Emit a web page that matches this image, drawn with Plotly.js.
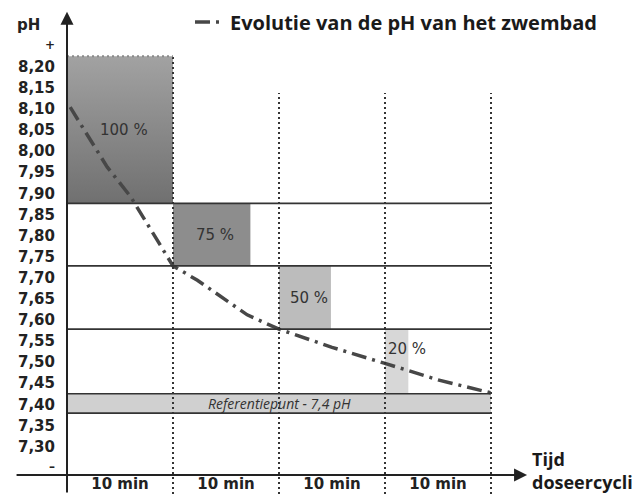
<!DOCTYPE html>
<html>
<head>
<meta charset="utf-8">
<script src="https://cdn.plot.ly/plotly-3.0.1.min.js"></script>
<style>html,body{margin:0;padding:0;background:#fff;}#chart{width:643px;height:494px;}</style>
</head>
<body>
<div id="chart"></div>
<script>
// ---- data ----
const cycleStarts = [0, 10, 20, 30];
const cycleEnds = [10, 20, 30, 40];
const cycleLabels = ['10 min', '10 min', '10 min', '10 min'];
const doseLabels = ['100 %', '75 %', '50 %', '20 %'];
const doseMinutes = [10, 7.3, 4.9, 2.2];
const doseLow = [7.876, 7.728, 7.578, 7.425];
const doseHigh = [8.225, 7.876, 7.728, 7.578];
const zoneLines = [7.876, 7.728, 7.578];
const refBand = [7.379, 7.425];
const refLabel = 'Referentiepunt - 7,4 pH';
const curveName = 'Evolutie van de pH van het zwembad';
const curveX = [0.3, 2.4, 3.8, 6.0, 8.0, 10, 12.3, 15, 17, 20, 25, 30, 35, 40];
const curveY = [8.104, 8.02, 7.962, 7.892, 7.81, 7.728, 7.694, 7.647, 7.612, 7.578, 7.535, 7.497, 7.458, 7.427];
const yTickVals = [8.20, 8.15, 8.10, 8.05, 8.00, 7.95, 7.90, 7.85, 7.80, 7.75, 7.70, 7.65, 7.60, 7.55, 7.50, 7.45, 7.40, 7.35, 7.30];
const yTickText = ['8,20', '8,15', '8,10', '8,05', '8,00', '7,95', '7,90', '7,85', '7,80', '7,75', '7,70', '7,65', '7,60', '7,55', '7,50', '7,45', '7,40', '7,35', '7,30'];
const yAxisTitle = 'pH';
const yPlus = '+';
const yMinus = '–';
const xAxisTitle = 'Tijd<br>doseercycli';

// ---- layout constants ----
const X_RANGE = [0, 54.34];
const Y_RANGE = [7.1875, 8.358];
const X_AXIS_Y = 7.2325;
const DOTTED_TOP = 8.1375;

const traces = [];
const boxColors = ['#858585', '#8d8d8d', '#bcbcbc', '#d7d7d7'];
for (let i = 0; i < cycleStarts.length; i++) {
  const x0 = cycleStarts[i], x1 = cycleStarts[i] + doseMinutes[i];
  const tr = {
    type: 'scatter', mode: 'none',
    x: [x0, x1, x1, x0, x0],
    y: [doseLow[i], doseLow[i], doseHigh[i], doseHigh[i], doseLow[i]],
    fill: 'toself', fillcolor: boxColors[i],
    showlegend: false, hoverinfo: 'skip'
  };
  if (i === 0) {
    tr.fillgradient = {type: 'vertical', colorscale: [[0, '#707070'], [1, '#a2a2a2']]};
  }
  traces.push(tr);
}
traces.push({
  type: 'scatter', mode: 'lines', name: curveName,
  x: curveX, y: curveY,
  line: {color: '#474747', width: 3.5, dash: '15px,6px,3px,6px'},
  showlegend: true, hoverinfo: 'skip'
});

const shapes = [];
shapes.push({type: 'rect', xref: 'x', yref: 'y', x0: 0, x1: cycleEnds[cycleEnds.length - 1], y0: refBand[0], y1: refBand[1],
  fillcolor: '#d0d0d0', line: {width: 0}, layer: 'below'});
refBand.concat(zoneLines).forEach(v => {
  shapes.push({type: 'line', xref: 'x', yref: 'y', x0: 0, x1: cycleEnds[cycleEnds.length - 1], y0: v, y1: v,
    line: {color: '#333', width: 1.7}, layer: 'above'});
});
cycleEnds.forEach((x, i) => {
  shapes.push({type: 'line', xref: 'x', yref: 'y', x0: x, x1: x, y0: Y_RANGE[0], y1: i === 0 ? doseHigh[0] : DOTTED_TOP,
    line: {color: '#333', width: 2, dash: '2px,3px'}, layer: 'above'});
});
shapes.push({type: 'line', xref: 'x', yref: 'y', x0: 0, x1: cycleEnds[0], y0: doseHigh[0], y1: doseHigh[0],
  line: {color: '#8a8a8a', width: 2, dash: '2px,3px'}, layer: 'above'});

const annotations = [];
// percentage labels
for (let i = 0; i < cycleStarts.length; i++) {
  const wide = doseMinutes[i] >= 4;
  annotations.push({
    xref: 'x', yref: 'y',
    x: wide ? cycleStarts[i] + doseMinutes[i] / 2 + 0.35 : cycleStarts[i],
    xanchor: wide ? 'center' : 'left', yanchor: 'middle', xshift: wide ? 0 : 1,
    y: (doseLow[i] + doseHigh[i]) / 2 + (wide ? 0 : 0.03),
    text: doseLabels[i], showarrow: false,
    font: {family: 'DejaVu Sans', size: 15, color: '#333'}
  });
}
annotations.push({xref: 'x', yref: 'y', x: cycleEnds[cycleEnds.length - 1] / 2, y: (refBand[0] + refBand[1]) / 2,
  xanchor: 'center', yanchor: 'middle',
  text: '<i>' + refLabel + '</i>', showarrow: false,
  font: {family: 'Open Sans', size: 14, color: '#333'}});
// axis arrows
annotations.push({xref: 'x', yref: 'y', x: 0, y: 8.33, axref: 'x', ayref: 'y', ax: 0, ay: Y_RANGE[0],
  text: '', showarrow: true, arrowhead: 2, arrowsize: 1.3, arrowwidth: 2, arrowcolor: '#222'});
annotations.push({xref: 'x', yref: 'y', x: 43.4, y: X_AXIS_Y, axref: 'x', ayref: 'y', ax: -4.9, ay: X_AXIS_Y,
  text: '', showarrow: true, arrowhead: 2, arrowsize: 1.3, arrowwidth: 2, arrowcolor: '#222'});
// axis decorations
annotations.push({xref: 'paper', yref: 'paper', x: -0.0668, y: 0.949, xanchor: 'center', yanchor: 'middle',
  text: '<b>' + yAxisTitle + '</b>', showarrow: false,
  font: {family: 'DejaVu Sans', size: 15, color: '#222'}});
annotations.push({xref: 'paper', yref: 'paper', x: -0.0295, y: 0.909, xanchor: 'center', yanchor: 'middle',
  text: '<b>' + yPlus + '</b>', showarrow: false,
  font: {family: 'DejaVu Sans', size: 12, color: '#222'}});
annotations.push({xref: 'paper', yref: 'paper', x: -0.026, y: 0.0553, xanchor: 'center', yanchor: 'middle',
  text: '<b>' + yMinus + '</b>', showarrow: false,
  font: {family: 'DejaVu Sans', size: 12, color: '#222'}});
annotations.push({xref: 'paper', yref: 'paper', x: 0.8038, y: 0.0466, xanchor: 'left', yanchor: 'middle', align: 'left',
  text: '<b>' + xAxisTitle + '</b>', showarrow: false,
  font: {family: 'Open Sans', size: 18, color: '#1a1a1a'}});

const layout = {
  width: 643, height: 494,
  margin: {l: 67, r: 0, t: 0, b: 0, pad: 0},
  paper_bgcolor: '#fff', plot_bgcolor: '#fff',
  hovermode: false,
  xaxis: {range: X_RANGE, showgrid: false, zeroline: false, showline: false,
    anchor: 'free', position: 19 / 494, automargin: false,
    tickmode: 'array', tickvals: cycleStarts.map((s, i) => (s + cycleEnds[i]) / 2), ticktext: cycleLabels,
    ticks: '', ticklabelstandoff: -2,
    tickfont: {family: 'DejaVu Sans', size: 15, color: '#222', weight: 700}},
  yaxis: {range: Y_RANGE, showgrid: false, zeroline: false, showline: false, automargin: false,
    tickmode: 'array', tickvals: yTickVals, ticktext: yTickText,
    ticks: '', ticklabelstandoff: 11,
    tickfont: {family: 'DejaVu Sans', size: 15, color: '#222', weight: 700}},
  showlegend: true,
  legend: {x: 0.2135, y: 0.995, xanchor: 'left', yanchor: 'top', bgcolor: 'rgba(0,0,0,0)',
    font: {family: 'Open Sans', size: 20, color: '#1a1a1a', weight: 700}},
  shapes: shapes,
  annotations: annotations
};

Plotly.newPlot('chart', traces, layout, {displayModeBar: false, staticPlot: true});
</script>
</body>
</html>
